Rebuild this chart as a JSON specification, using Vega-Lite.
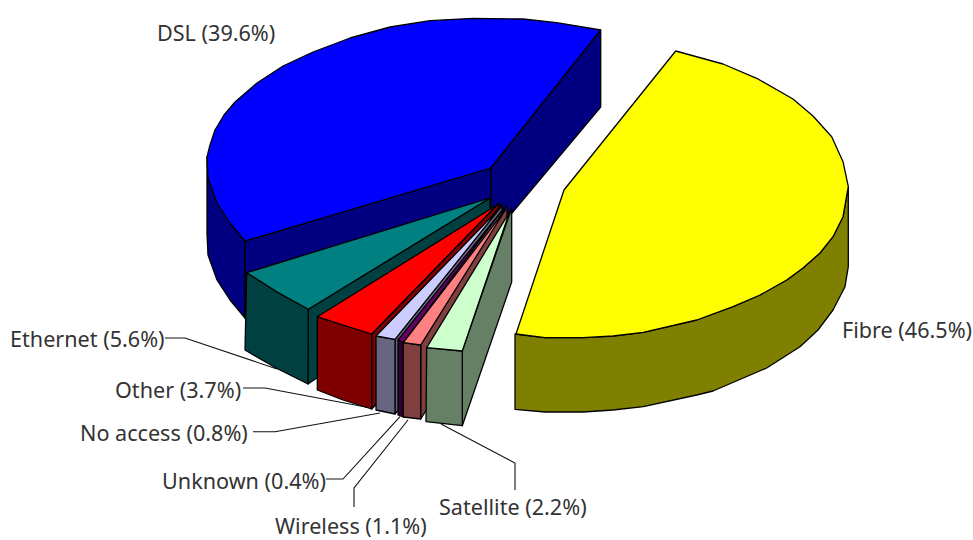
{"$schema":"https://vega.github.io/schema/vega-lite/v6.json","width":973,"height":540,"autosize":{"type":"fit","contains":"padding"},"padding":0,"background":"white","config":{"view":{"stroke":null}},
"datasets":{
"faces":[
{"part":"DSL outer","i":0,"x":207,"y":157},{"part":"DSL outer","i":1,"x":208,"y":178},{"part":"DSL outer","i":2,"x":217,"y":203},{"part":"DSL outer","i":3,"x":230,"y":223},{"part":"DSL outer","i":4,"x":245,"y":241},{"part":"DSL outer","i":5,"x":245,"y":318},{"part":"DSL outer","i":6,"x":230,"y":300},{"part":"DSL outer","i":7,"x":217,"y":280},{"part":"DSL outer","i":8,"x":208,"y":255},{"part":"DSL outer","i":9,"x":207,"y":234},
{"part":"DSL back cut","i":0,"x":490.7,"y":168},{"part":"DSL back cut","i":1,"x":600.7,"y":30},{"part":"DSL back cut","i":2,"x":600.7,"y":107},{"part":"DSL back cut","i":3,"x":512,"y":213},{"part":"DSL back cut","i":4,"x":490.7,"y":213},
{"part":"DSL front cut","i":0,"x":245,"y":241},{"part":"DSL front cut","i":1,"x":490.7,"y":168},{"part":"DSL front cut","i":2,"x":490.7,"y":245},{"part":"DSL front cut","i":3,"x":245,"y":318},
{"part":"DSL top","i":0,"x":490.7,"y":168},{"part":"DSL top","i":1,"x":600.7,"y":30},{"part":"DSL top","i":2,"x":556.7,"y":22.7},{"part":"DSL top","i":3,"x":523,"y":19},{"part":"DSL top","i":4,"x":473,"y":18.3},{"part":"DSL top","i":5,"x":430,"y":20.7},{"part":"DSL top","i":6,"x":390,"y":27},{"part":"DSL top","i":7,"x":350,"y":38},{"part":"DSL top","i":8,"x":313,"y":52},{"part":"DSL top","i":9,"x":283,"y":66},{"part":"DSL top","i":10,"x":257,"y":83},{"part":"DSL top","i":11,"x":235,"y":102},{"part":"DSL top","i":12,"x":224,"y":115},{"part":"DSL top","i":13,"x":215,"y":130},{"part":"DSL top","i":14,"x":210,"y":145},{"part":"DSL top","i":15,"x":207,"y":157},{"part":"DSL top","i":16,"x":208,"y":178},{"part":"DSL top","i":17,"x":217,"y":203},{"part":"DSL top","i":18,"x":230,"y":223},{"part":"DSL top","i":19,"x":245,"y":241},
{"part":"Ethernet cut","i":0,"x":308.3,"y":309.3},{"part":"Ethernet cut","i":1,"x":490,"y":198},{"part":"Ethernet cut","i":2,"x":490,"y":260},{"part":"Ethernet cut","i":3,"x":308,"y":384},
{"part":"Ethernet outer","i":0,"x":246.7,"y":272.7},{"part":"Ethernet outer","i":1,"x":276.7,"y":291.7},{"part":"Ethernet outer","i":2,"x":308.3,"y":309.3},{"part":"Ethernet outer","i":3,"x":308,"y":384},{"part":"Ethernet outer","i":4,"x":276,"y":368},{"part":"Ethernet outer","i":5,"x":245,"y":350},
{"part":"Ethernet top","i":0,"x":490,"y":198},{"part":"Ethernet top","i":1,"x":246.7,"y":272.7},{"part":"Ethernet top","i":2,"x":276.7,"y":291.7},{"part":"Ethernet top","i":3,"x":308.3,"y":309.3},
{"part":"Other cut","i":0,"x":371.7,"y":334},{"part":"Other cut","i":1,"x":499,"y":203},{"part":"Other cut","i":2,"x":499,"y":278},{"part":"Other cut","i":3,"x":371.7,"y":409},
{"part":"Other outer","i":0,"x":317.3,"y":316.7},{"part":"Other outer","i":1,"x":343,"y":325},{"part":"Other outer","i":2,"x":371.7,"y":334},{"part":"Other outer","i":3,"x":371.7,"y":409},{"part":"Other outer","i":4,"x":343,"y":400},{"part":"Other outer","i":5,"x":317.3,"y":390},
{"part":"Other top","i":0,"x":497,"y":205},{"part":"Other top","i":1,"x":317.3,"y":316.7},{"part":"Other top","i":2,"x":343,"y":325},{"part":"Other top","i":3,"x":371.7,"y":334},
{"part":"No access cut","i":0,"x":395,"y":339.3},{"part":"No access cut","i":1,"x":502,"y":204},{"part":"No access cut","i":2,"x":502,"y":280},{"part":"No access cut","i":3,"x":395,"y":414},
{"part":"No access outer","i":0,"x":376,"y":336},{"part":"No access outer","i":1,"x":395,"y":339.3},{"part":"No access outer","i":2,"x":395,"y":414},{"part":"No access outer","i":3,"x":376,"y":410},
{"part":"No access top","i":0,"x":501,"y":207},{"part":"No access top","i":1,"x":376,"y":336},{"part":"No access top","i":2,"x":395,"y":339.3},
{"part":"Unknown outer","i":0,"x":398,"y":340},{"part":"Unknown outer","i":1,"x":403.3,"y":342.7},{"part":"Unknown outer","i":2,"x":403.3,"y":417},{"part":"Unknown outer","i":3,"x":398,"y":415},
{"part":"Unknown top","i":0,"x":504,"y":208},{"part":"Unknown top","i":1,"x":398,"y":340},{"part":"Unknown top","i":2,"x":403.3,"y":342.7},
{"part":"Wireless cut","i":0,"x":420.7,"y":345},{"part":"Wireless cut","i":1,"x":507,"y":205},{"part":"Wireless cut","i":2,"x":507,"y":283},{"part":"Wireless cut","i":3,"x":420.7,"y":419},
{"part":"Wireless outer","i":0,"x":403.3,"y":342.7},{"part":"Wireless outer","i":1,"x":420.7,"y":345},{"part":"Wireless outer","i":2,"x":420.7,"y":419},{"part":"Wireless outer","i":3,"x":403.3,"y":417},
{"part":"Wireless top","i":0,"x":506,"y":209},{"part":"Wireless top","i":1,"x":403.3,"y":342.7},{"part":"Wireless top","i":2,"x":420.7,"y":345},
{"part":"Satellite cut","i":0,"x":462.3,"y":351},{"part":"Satellite cut","i":1,"x":511.7,"y":208},{"part":"Satellite cut","i":2,"x":511.7,"y":282},{"part":"Satellite cut","i":3,"x":462.3,"y":425.7},
{"part":"Satellite outer","i":0,"x":426.7,"y":347.7},{"part":"Satellite outer","i":1,"x":462.3,"y":351},{"part":"Satellite outer","i":2,"x":462.3,"y":425.7},{"part":"Satellite outer","i":3,"x":426,"y":421.7},
{"part":"Satellite top","i":0,"x":509.5,"y":212},{"part":"Satellite top","i":1,"x":426.7,"y":347.7},{"part":"Satellite top","i":2,"x":462.3,"y":351},
{"part":"Fibre outer","i":0,"x":848.3,"y":186.7},{"part":"Fibre outer","i":1,"x":843,"y":216.7},{"part":"Fibre outer","i":2,"x":833,"y":236.7},{"part":"Fibre outer","i":3,"x":820,"y":253},{"part":"Fibre outer","i":4,"x":803,"y":268},{"part":"Fibre outer","i":5,"x":786.7,"y":280},{"part":"Fibre outer","i":6,"x":760,"y":295},{"part":"Fibre outer","i":7,"x":733,"y":306.7},{"part":"Fibre outer","i":8,"x":696.7,"y":320},{"part":"Fibre outer","i":9,"x":643.3,"y":332.3},{"part":"Fibre outer","i":10,"x":613,"y":336},{"part":"Fibre outer","i":11,"x":583,"y":337.7},{"part":"Fibre outer","i":12,"x":545,"y":337.7},{"part":"Fibre outer","i":13,"x":515,"y":334},{"part":"Fibre outer","i":14,"x":515,"y":409.3},{"part":"Fibre outer","i":15,"x":545,"y":412},{"part":"Fibre outer","i":16,"x":583,"y":412},{"part":"Fibre outer","i":17,"x":613,"y":410},{"part":"Fibre outer","i":18,"x":643.3,"y":406.7},{"part":"Fibre outer","i":19,"x":696.7,"y":395},{"part":"Fibre outer","i":20,"x":713,"y":391},{"part":"Fibre outer","i":21,"x":766.7,"y":368},{"part":"Fibre outer","i":22,"x":800,"y":346.7},{"part":"Fibre outer","i":23,"x":818,"y":330},{"part":"Fibre outer","i":24,"x":833,"y":310},{"part":"Fibre outer","i":25,"x":845,"y":286.7},{"part":"Fibre outer","i":26,"x":848.3,"y":266.7},
{"part":"Fibre top","i":0,"x":675.7,"y":51},{"part":"Fibre top","i":1,"x":723,"y":64},{"part":"Fibre top","i":2,"x":756.7,"y":78.3},{"part":"Fibre top","i":3,"x":793,"y":99},{"part":"Fibre top","i":4,"x":813,"y":116},{"part":"Fibre top","i":5,"x":831.7,"y":136.7},{"part":"Fibre top","i":6,"x":843,"y":161.7},{"part":"Fibre top","i":7,"x":848.3,"y":186.7},{"part":"Fibre top","i":8,"x":843,"y":216.7},{"part":"Fibre top","i":9,"x":833,"y":236.7},{"part":"Fibre top","i":10,"x":820,"y":253},{"part":"Fibre top","i":11,"x":803,"y":268},{"part":"Fibre top","i":12,"x":786.7,"y":280},{"part":"Fibre top","i":13,"x":760,"y":295},{"part":"Fibre top","i":14,"x":733,"y":306.7},{"part":"Fibre top","i":15,"x":696.7,"y":320},{"part":"Fibre top","i":16,"x":643.3,"y":332.3},{"part":"Fibre top","i":17,"x":613,"y":336},{"part":"Fibre top","i":18,"x":583,"y":337.7},{"part":"Fibre top","i":19,"x":545,"y":337.7},{"part":"Fibre top","i":20,"x":516,"y":334},{"part":"Fibre top","i":21,"x":564,"y":190}
],
"leaders":[
{"slice":"Ethernet","i":0,"x":165,"y":338},{"slice":"Ethernet","i":1,"x":185,"y":338},{"slice":"Ethernet","i":2,"x":277,"y":369},
{"slice":"Other","i":0,"x":243,"y":388},{"slice":"Other","i":1,"x":265,"y":388},{"slice":"Other","i":2,"x":371,"y":408},
{"slice":"No access","i":0,"x":253,"y":431.7},{"slice":"No access","i":1,"x":275,"y":431.7},{"slice":"No access","i":2,"x":380,"y":413},
{"slice":"Unknown","i":0,"x":326,"y":479},{"slice":"Unknown","i":1,"x":343,"y":479},{"slice":"Unknown","i":2,"x":400,"y":416.7},
{"slice":"Wireless","i":0,"x":354,"y":507},{"slice":"Wireless","i":1,"x":354,"y":488},{"slice":"Wireless","i":2,"x":408,"y":420},
{"slice":"Satellite","i":0,"x":515,"y":490},{"slice":"Satellite","i":1,"x":515,"y":463},{"slice":"Satellite","i":2,"x":441,"y":424}
],
"labels":[
{"label":"DSL (39.6%)","x":157,"y":34.5},{"label":"Fibre (46.5%)","x":842,"y":331.5},{"label":"Ethernet (5.6%)","x":10,"y":340.5},{"label":"Other (3.7%)","x":115,"y":391.5},{"label":"No access (0.8%)","x":80,"y":434.5},{"label":"Unknown (0.4%)","x":162,"y":482.5},{"label":"Wireless (1.1%)","x":275,"y":527.5},{"label":"Satellite (2.2%)","x":439,"y":508.5}
]},
"layer":[
{"data":{"name":"leaders"},"mark":{"type":"line","stroke":"#111","strokeWidth":1.1},"encoding":{"x":{"field":"x","type":"quantitative","scale":{"domain":[0,973],"nice":false,"zero":false},"axis":null},"y":{"field":"y","type":"quantitative","scale":{"domain":[540,0],"nice":false,"zero":false},"axis":null},"detail":{"field":"slice"},"order":{"field":"i"}}},
{"data":{"name":"faces"},"mark":{"type":"line","interpolate":"linear-closed","stroke":"#000","strokeWidth":1.3,"strokeJoin":"round"},"encoding":{"x":{"field":"x","type":"quantitative","scale":{"domain":[0,973],"nice":false,"zero":false},"axis":null},"y":{"field":"y","type":"quantitative","scale":{"domain":[540,0],"nice":false,"zero":false},"axis":null},"detail":{"field":"part"},"order":{"field":"i"},"fill":{"field":"part","type":"nominal","legend":null,"scale":{
"domain":["DSL outer","DSL back cut","DSL front cut","DSL top","Ethernet cut","Ethernet outer","Ethernet top","Other cut","Other outer","Other top","No access cut","No access outer","No access top","Unknown outer","Unknown top","Wireless cut","Wireless outer","Wireless top","Satellite cut","Satellite outer","Satellite top","Fibre outer","Fibre top"],
"range":["#000080","#000080","#000080","#0000ff","#004040","#004040","#008080","#800000","#800000","#ff0000","#666680","#666680","#ccccff","#330033","#660066","#804040","#804040","#ff8080","#668066","#668066","#ccffcc","#808000","#ffff00"]}}}},
{"data":{"name":"labels"},"mark":{"type":"text","align":"left","baseline":"middle","font":"Noto Sans","fontSize":21.6,"fill":"#333"},"encoding":{"x":{"field":"x","type":"quantitative","scale":{"domain":[0,973],"nice":false,"zero":false},"axis":null},"y":{"field":"y","type":"quantitative","scale":{"domain":[540,0],"nice":false,"zero":false},"axis":null},"text":{"field":"label"}}}
]}
